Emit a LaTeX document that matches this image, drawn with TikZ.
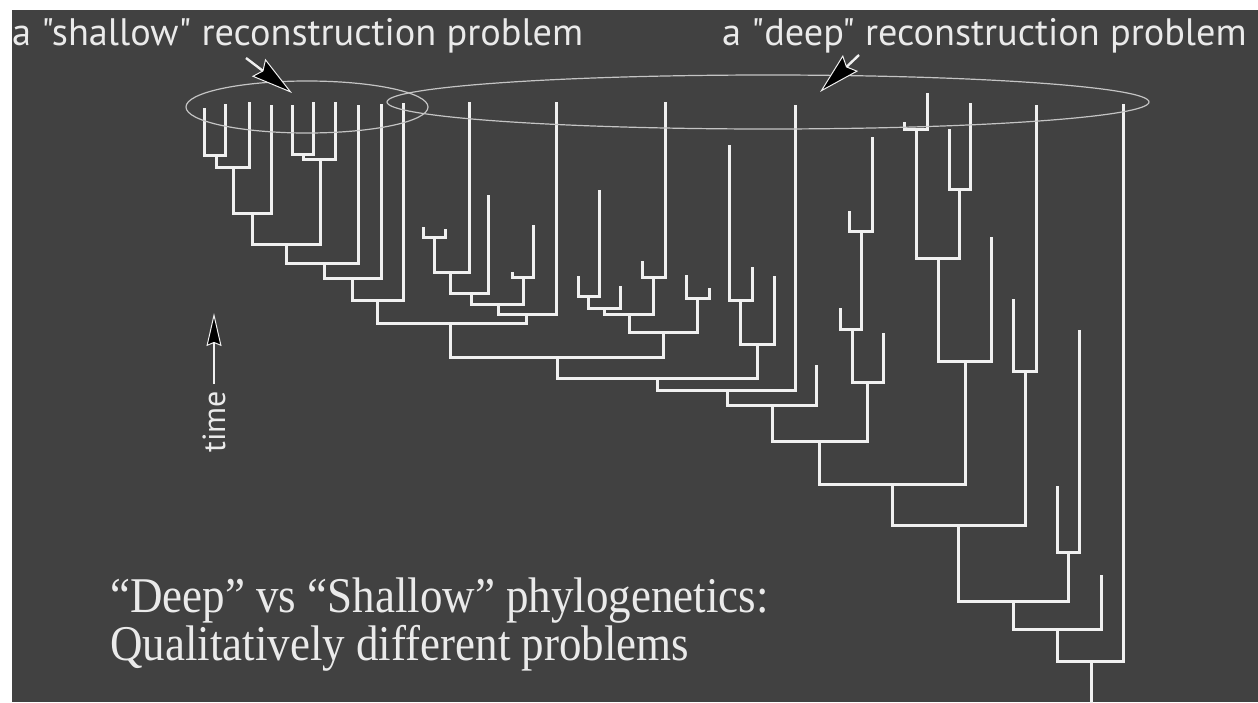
\documentclass[tikz,border=0pt]{standalone}
\usepackage{fontspec}
\setmainfont{Liberation Serif}
\newfontfamily\condserif{Liberation Serif}[FakeStretch=0.9]
\newfontfamily\labelfont{PT Sans}
\usetikzlibrary{arrows.meta}
\definecolor{bg}{HTML}{414141}
\definecolor{ln}{HTML}{F0F0F0}
\definecolor{txt}{HTML}{EAEAEA}
\begin{document}
\begin{tikzpicture}[x=1pt,y=-1pt,
  br/.style={draw=ln, line width=3pt, line join=miter, line cap=rect},
  ring/.style={draw=ln!75!bg, line width=1.2pt},
  pointer/.style={draw=ln, line width=2.4pt, -{Stealth[length=42pt,width=22pt,inset=5pt,fill=black,line width=1pt]}},
  timepointer/.style={draw=ln, line width=2.2pt, -{Stealth[length=33pt,width=15pt,inset=3pt,fill=black,line width=1pt]}},
  toplabel/.style={anchor=base west, inner sep=0pt, text=txt, font=\labelfont\fontsize{38.3}{42}\selectfont},
  bottomlabel/.style={anchor=base west, inner sep=0pt, text=txt, font=\condserif\fontsize{50}{54}\selectfont}
]
\fill[white] (0,0) rectangle (1258,702);
\fill[bg] (12,10) rectangle (1258,702);
\useasboundingbox (0,0) rectangle (1258,702);

% ---------- leaves ----------
\coordinate (l1) at (204,109);  \coordinate (l2) at (225,105);
\coordinate (l3) at (249,103);  \coordinate (l4) at (271,106);
\coordinate (l5) at (292,106);  \coordinate (l6) at (313,103);
\coordinate (l7) at (335,103);  \coordinate (l8) at (358,106);
\coordinate (l9) at (381,105);  \coordinate (l10) at (403,104);
\coordinate (l11) at (423,228); \coordinate (l12) at (445,230);
\coordinate (l13) at (469,103); \coordinate (l14) at (488,196);
\coordinate (l15) at (512,273); \coordinate (l16) at (533,226);
\coordinate (l17) at (556,103); \coordinate (l18) at (578,277);
\coordinate (l19) at (599,191); \coordinate (l20) at (620,287);
\coordinate (l21) at (642,262); \coordinate (l22) at (665,103);
\coordinate (l23) at (686,276); \coordinate (l24) at (709,289);
\coordinate (l25) at (729,146); \coordinate (l26) at (752,268);
\coordinate (l27) at (774,277); \coordinate (l28) at (795,106);
\coordinate (l29) at (816,366); \coordinate (l30) at (849,212);
\coordinate (l31) at (872,138); \coordinate (l32) at (840,309);
\coordinate (l33) at (883,334); \coordinate (l34) at (904,123);
\coordinate (l35) at (927,94);  \coordinate (l36) at (949,130);
\coordinate (l37) at (970,104); \coordinate (l38) at (991,238);
\coordinate (l39) at (1013,300); \coordinate (l40) at (1036,106);
\coordinate (l41) at (1057,487); \coordinate (l42) at (1079,331);
\coordinate (l43) at (1101,576); \coordinate (l44) at (1123,105);
% ---------- internal nodes ----------
\coordinate (n1) at (216,155);  \coordinate (n2) at (233,167);
\coordinate (n3) at (252,213);  \coordinate (n4) at (303,154);
\coordinate (n5) at (320,159);  \coordinate (n6) at (286,244);
\coordinate (n7) at (324,263);  \coordinate (n8) at (352,278);
\coordinate (n9) at (377,300);  \coordinate (n10) at (434,237);
\coordinate (n11) at (450,272); \coordinate (n12) at (471,293);
\coordinate (n13) at (523,277); \coordinate (n14) at (498,304);
\coordinate (n15) at (526,314); \coordinate (n16) at (450,323);
\coordinate (n17) at (588,296); \coordinate (n18) at (604,308);
\coordinate (n19) at (653,277); \coordinate (n20) at (629,314);
\coordinate (n21) at (697,298); \coordinate (n22) at (663,332);
\coordinate (n23) at (557,357); \coordinate (n24) at (740,300);
\coordinate (n25) at (757,344); \coordinate (n26) at (657,378);
\coordinate (n27) at (727,390); \coordinate (n28) at (772,405);
\coordinate (n29) at (861,231); \coordinate (n30) at (852,329);
\coordinate (n31) at (867,382); \coordinate (n32) at (819,441);
\coordinate (n33) at (916,129); \coordinate (n34) at (959,189);
\coordinate (n35) at (938,258); \coordinate (n36) at (965,361);
\coordinate (n37) at (892,484); \coordinate (n38) at (1025,371);
\coordinate (n39) at (958,525); \coordinate (n40) at (1068,552);
\coordinate (n41) at (1013,601); \coordinate (n42) at (1057,629);
\coordinate (n43) at (1091,661); \coordinate (rootend) at (1091,706);

% ---------- branches ----------
\draw[br] (l1) |- (n1) -| (l2);
\draw[br] (n1) |- (n2) -| (l3);
\draw[br] (n2) |- (n3) -| (l4);
\draw[br] (l5) |- (n4) -| (l6);
\draw[br] (n4) |- (n5) -| (l7);
\draw[br] (n3) |- (n6) -| (n5);
\draw[br] (n6) |- (n7) -| (l8);
\draw[br] (n7) |- (n8) -| (l9);
\draw[br] (n8) |- (n9) -| (l10);
\draw[br] (l11) |- (n10) -| (l12);
\draw[br] (n10) |- (n11) -| (l13);
\draw[br] (n11) |- (n12) -| (l14);
\draw[br] (l15) |- (n13) -| (l16);
\draw[br] (n12) |- (n14) -| (n13);
\draw[br] (n14) |- (n15) -| (l17);
\draw[br] (n9) |- (n16) -| (n15);
\draw[br] (l18) |- (n17) -| (l19);
\draw[br] (n17) |- (n18) -| (l20);
\draw[br] (l21) |- (n19) -| (l22);
\draw[br] (n18) |- (n20) -| (n19);
\draw[br] (l23) |- (n21) -| (l24);
\draw[br] (n20) |- (n22) -| (n21);
\draw[br] (n16) |- (n23) -| (n22);
\draw[br] (l25) |- (n24) -| (l26);
\draw[br] (n24) |- (n25) -| (l27);
\draw[br] (n23) |- (n26) -| (n25);
\draw[br] (n26) |- (n27) -| (l28);
\draw[br] (n27) |- (n28) -| (l29);
\draw[br] (l30) |- (n29) -| (l31);
\draw[br] (l32) |- (n30) -| (n29);
\draw[br] (n30) |- (n31) -| (l33);
\draw[br] (n28) |- (n32) -| (n31);
\draw[br] (l34) |- (n33) -| (l35);
\draw[br] (l36) |- (n34) -| (l37);
\draw[br] (n33) |- (n35) -| (n34);
\draw[br] (n35) |- (n36) -| (l38);
\draw[br] (n32) |- (n37) -| (n36);
\draw[br] (l39) |- (n38) -| (l40);
\draw[br] (n37) |- (n39) -| (n38);
\draw[br] (l41) |- (n40) -| (l42);
\draw[br] (n39) |- (n41) -| (n40);
\draw[br] (n41) |- (n42) -| (l43);
\draw[br] (n42) |- (n43) -| (l44);
\draw[br] (n43) -- (rootend);

% ---------- rings ----------
\draw[ring] (307,107) ellipse [x radius=121pt, y radius=26pt];
\draw[ring] (768,102) ellipse [x radius=381pt, y radius=27pt];

% ---------- pointers ----------
\coordinate (shtail) at (246,58);  \coordinate (shtip) at (292,93);
\coordinate (dptail) at (859,55);  \coordinate (dptip) at (820,92);
\coordinate (tmtail) at (214,384); \coordinate (tmtip) at (214,313);
\draw[pointer] (shtail) -- (shtip);
\draw[pointer] (dptail) -- (dptip);
\draw[timepointer] (tmtail) -- (tmtip);

% ---------- labels ----------
\node[toplabel] (shallowlbl) at (12,45) {a "shallow" reconstruction problem};
\node[toplabel] (deeplbl) at (722,45) {a "deep" reconstruction problem};
\node[text=txt, inner sep=0pt, rotate=90, font=\labelfont\fontsize{32}{34}\selectfont] (timelbl) at (214,422) {time};
\node[bottomlabel] (line1) at (110,612) {“Deep” vs “Shallow” phylogenetics:};
\node[bottomlabel] (line2) at (110,660) {Qualitatively different problems};
\end{tikzpicture}
\end{document}
